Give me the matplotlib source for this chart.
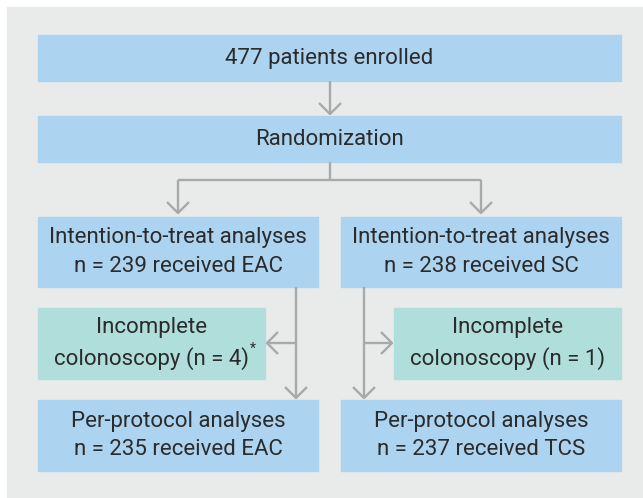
import matplotlib
matplotlib.use("Agg")
from matplotlib import pyplot as plt
from matplotlib.patches import Rectangle

# Flowchart text
top_labels = ["477 patients enrolled", "Randomization"]
itt_labels = ["Intention-to-treat analyses\nn = 239 received EAC",
              "Intention-to-treat analyses\nn = 238 received SC"]
excluded_labels = ["Incomplete\ncolonoscopy (n = 4)",
                   "Incomplete\ncolonoscopy (n = 1)"]
footnote_mark = "*"
pp_labels = ["Per-protocol analyses\nn = 235 received EAC",
             "Per-protocol analyses\nn = 237 received TCS"]

# Colours
panel_color = "#e9ebeb"
blue = "#acd3ef"
teal = "#b0dedb"
line_color = "#a8a9ab"
text_color = "#2b2b2b"

W, H = 643, 498
fig = plt.figure(figsize=(W / 100, H / 100), dpi=100)
ax = fig.add_axes([0, 0, 1, 1])
ax.set_xlim(0, W)
ax.set_ylim(H, 0)
ax.axis("off")

font = dict(family=["Roboto", "DejaVu Sans"], fontsize=16, color=text_color,
            ha="center", va="center", linespacing=1.45)

ax.add_patch(Rectangle((7, 7), W - 7, H - 7, color=panel_color, zorder=0))


def box(x0, y0, x1, y1, label, color):
    ax.add_patch(Rectangle((x0, y0), x1 - x0, y1 - y0, color=color, zorder=1))
    return ax.text((x0 + x1) / 2, (y0 + y1) / 2, label, zorder=3, **font)


def line(xs, ys):
    ax.plot(xs, ys, color=line_color, lw=1.7, solid_capstyle="butt", zorder=2)


def arrow_head(x, y, direction, s=11):
    if direction == "down":
        line([x - s, x, x + s], [y - s, y, y - s])
    elif direction == "left":
        line([x + s, x, x + s], [y - s, y, y + s])
    else:
        line([x - s, x, x - s], [y - s, y, y + s])


box(38, 35, 621, 81, top_labels[0], blue)
box(38, 116, 621, 162, top_labels[1], blue)
box(38, 217, 318, 287, itt_labels[0], blue)
box(341, 217, 621, 287, itt_labels[1], blue)
t_excl = box(38, 308, 265, 379, excluded_labels[0], teal)
box(394, 308, 621, 379, excluded_labels[1], teal)
box(38, 400, 318, 471, pp_labels[0], blue)
box(341, 400, 621, 471, pp_labels[1], blue)

# superscript footnote mark after "colonoscopy (n = 4)"
renderer = fig.canvas.get_renderer()
bb = t_excl.get_window_extent(renderer).transformed(ax.transData.inverted())
ax.text(bb.x1 + 1, bb.y0 - 21, footnote_mark, family=["Roboto", "DejaVu Sans"],
        fontsize=10, color=text_color, ha="left", va="center", zorder=3)

# enrolled -> randomization
line([330, 330], [81, 114])
arrow_head(330, 114, "down")
# split
line([330, 330], [162, 180])
line([178, 481], [180, 180])
for x in (178, 481):
    line([x, x], [180, 213])
    arrow_head(x, 213, "down")
# left branch
line([296, 296], [287, 398])
arrow_head(296, 398, "down")
line([267, 296], [343, 343])
arrow_head(267, 343, "left")
# right branch
line([364, 364], [287, 398])
arrow_head(364, 398, "down")
line([364, 392], [343, 343])
arrow_head(392, 343, "right")

fig.savefig("out.png", dpi=100)
